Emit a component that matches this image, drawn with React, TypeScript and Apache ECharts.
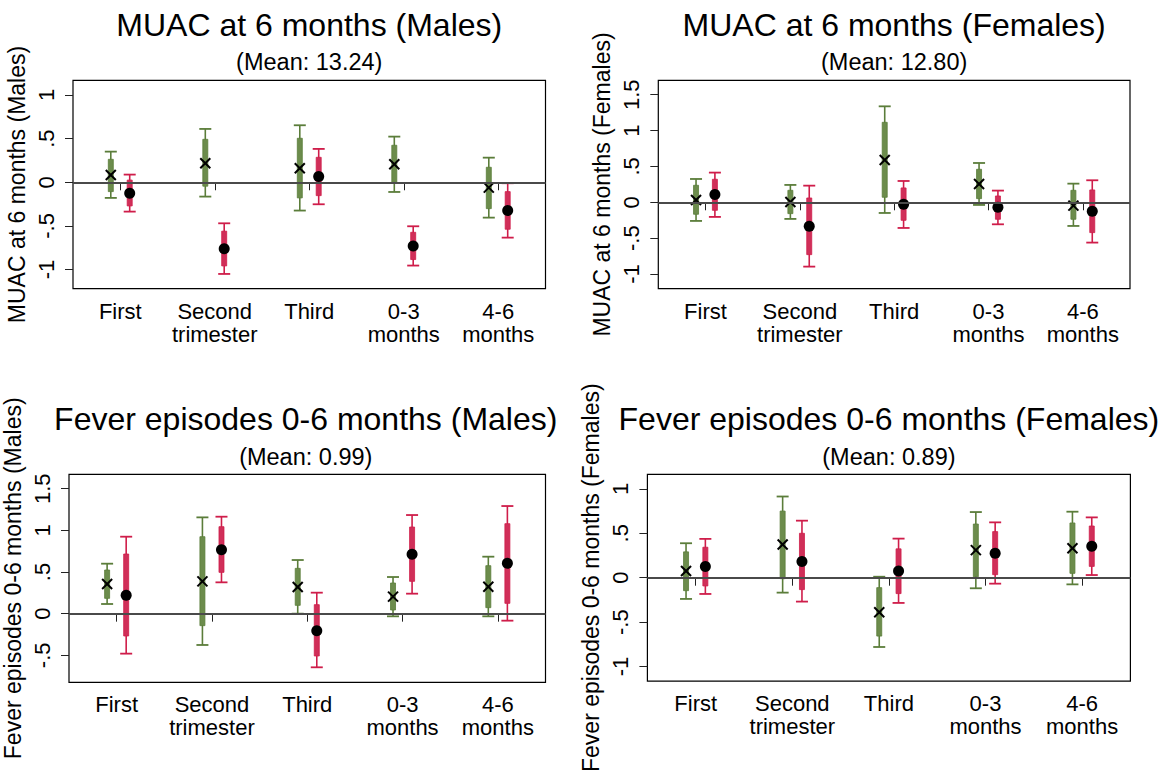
import React, { useEffect, useRef } from 'react';
import * as echarts from 'echarts';

const categories = ['First', 'Second\ntrimester', 'Third', '0-3\nmonths', '4-6\nmonths'];

// rows: [estimate, lo90, hi90, lo95, hi95]
const muacMalesGreen = [
  [0.084, -0.107, 0.263, -0.179, 0.351],
  [0.218, -0.045, 0.492, -0.164, 0.611],
  [0.160, -0.179, 0.504, -0.324, 0.653],
  [0.206, -0.008, 0.424, -0.111, 0.523],
  [-0.061, -0.302, 0.172, -0.405, 0.282],
];
const muacMalesRed = [
  [-0.126, -0.271, 0.025, -0.336, 0.088],
  [-0.762, -0.958, -0.560, -1.050, -0.470],
  [0.065, -0.153, 0.286, -0.252, 0.382],
  [-0.729, -0.885, -0.573, -0.954, -0.504],
  [-0.324, -0.538, -0.107, -0.634, -0.011],
];
const muacFemalesGreen = [
  [0.033, -0.167, 0.237, -0.260, 0.325],
  [0.005, -0.158, 0.167, -0.232, 0.242],
  [0.590, 0.070, 1.115, -0.149, 1.338],
  [0.256, 0.051, 0.460, -0.037, 0.548],
  [-0.046, -0.237, 0.167, -0.330, 0.260],
];
const muacFemalesRed = [
  [0.107, -0.112, 0.321, -0.204, 0.414],
  [-0.335, -0.730, 0.060, -0.897, 0.232],
  [-0.028, -0.251, 0.200, -0.358, 0.297],
  [-0.070, -0.237, 0.088, -0.307, 0.163],
  [-0.125, -0.423, 0.172, -0.562, 0.307],
];
const feverMalesGreen = [
  [0.356, 0.184, 0.524, 0.116, 0.600],
  [0.388, -0.144, 0.924, -0.376, 1.156],
  [0.320, 0.100, 0.544, 0.000, 0.644],
  [0.204, 0.044, 0.368, -0.032, 0.440],
  [0.324, 0.072, 0.576, -0.032, 0.684],
];
const feverMalesRed = [
  [0.220, -0.268, 0.716, -0.480, 0.924],
  [0.768, 0.496, 1.044, 0.376, 1.164],
  [-0.204, -0.508, 0.108, -0.644, 0.252],
  [0.712, 0.388, 1.040, 0.240, 1.184],
  [0.604, 0.124, 1.080, -0.084, 1.292],
];
const feverFemalesGreen = [
  [0.075, -0.146, 0.291, -0.239, 0.388],
  [0.373, -0.011, 0.750, -0.168, 0.914],
  [-0.388, -0.657, -0.112, -0.780, 0.011],
  [0.310, 0.011, 0.604, -0.119, 0.739],
  [0.332, 0.049, 0.616, -0.075, 0.743],
];
const feverFemalesRed = [
  [0.127, -0.093, 0.343, -0.183, 0.437],
  [0.183, -0.134, 0.500, -0.269, 0.642],
  [0.075, -0.179, 0.325, -0.284, 0.440],
  [0.276, 0.034, 0.519, -0.067, 0.623],
  [0.354, 0.127, 0.582, 0.030, 0.679],
];

const panelTitles = [
  'MUAC at 6 months (Males)',
  'MUAC at 6 months (Females)',
  'Fever episodes 0-6 months (Males)',
  'Fever episodes 0-6 months (Females)',
];
const panelMeans = ['(Mean: 13.24)', '(Mean: 12.80)', '(Mean: 0.99)', '(Mean: 0.89)'];
const yAxisNames = [
  'MUAC at 6 months (Males)',
  'MUAC at 6 months (Females)',
  'Fever episodes 0-6 months (Males)',
  'Fever episodes 0-6 months (Females)',
];
const yTickValues = [
  [-1, -0.5, 0, 0.5, 1],
  [-1, -0.5, 0, 0.5, 1, 1.5],
  [-0.5, 0, 0.5, 1, 1.5],
  [-1, -0.5, 0, 0.5, 1],
];
const yRanges = [
  [-1.219, 1.168],
  [-1.205, 1.701],
  [-0.824, 1.673],
  [-1.164, 1.164],
];

const greenSeries = [muacMalesGreen, muacFemalesGreen, feverMalesGreen, feverFemalesGreen];
const redSeries = [muacMalesRed, muacFemalesRed, feverMalesRed, feverFemalesRed];

// layout (pixels)
const gridBoxes = [
  { left: 73, top: 80.3, width: 472.5, height: 208.4 },
  { left: 658.3, top: 80.3, width: 471.7, height: 208.4 },
  { left: 66, top: 474.3, width: 479.5, height: 208 },
  { left: 647.4, top: 474.3, width: 483, height: 208 },
];
const titleY = [25, 25, 418.5, 419.3];
const subY = [62, 62, 457, 457];

const FONT = '"Liberation Sans", Arial, Helvetica, sans-serif';
const GREEN_LINE = '#5b7d3a';
const GREEN_FILL = '#6c8c4c';
const RED_LINE = '#cf1d4a';
const RED_FILL = '#d02f59';

const fmt = (v: number) => {
  if (v === 0) return '0';
  const s = String(v);
  return s.replace(/^(-?)0\./, '$1.');
};

const renderBar = (offset: number, lineColor: string, fillColor: string, marker: 'x' | 'dot') =>
  (params: any, api: any) => {
    const c = api.value(0);
    const band = api.size([1, 0])[0];
    const x = api.coord([c, 0])[0] + offset * band;
    const y = (v: number) => api.coord([c, v])[1];
    const est = y(api.value(1));
    const lo90 = y(api.value(2));
    const hi90 = y(api.value(3));
    const lo95 = y(api.value(4));
    const hi95 = y(api.value(5));
    const cap = 6;
    const bw = 5;
    const children: any[] = [
      { type: 'line', shape: { x1: x, y1: lo95, x2: x, y2: hi95 }, style: { stroke: lineColor, lineWidth: 1.6 } },
      { type: 'line', shape: { x1: x - cap, y1: hi95, x2: x + cap, y2: hi95 }, style: { stroke: lineColor, lineWidth: 1.8 } },
      { type: 'line', shape: { x1: x - cap, y1: lo95, x2: x + cap, y2: lo95 }, style: { stroke: lineColor, lineWidth: 1.8 } },
      { type: 'rect', shape: { x: x - bw / 2, y: hi90, width: bw, height: lo90 - hi90 }, style: { fill: fillColor, stroke: lineColor, lineWidth: 0.8 } },
    ];
    if (marker === 'x') {
      const h = 5;
      children.push(
        { type: 'line', shape: { x1: x - h, y1: est - h, x2: x + h, y2: est + h }, style: { stroke: '#000', lineWidth: 2 } },
        { type: 'line', shape: { x1: x - h, y1: est + h, x2: x + h, y2: est - h }, style: { stroke: '#000', lineWidth: 2 } },
      );
    } else {
      children.push({ type: 'circle', shape: { cx: x, cy: est, r: 5.5 }, style: { fill: '#000' } });
    }
    return { type: 'group', children };
  };

const toData = (rows: number[][]) => rows.map((r, i) => [i, r[0], r[1], r[2], r[3], r[4]]);

export default function App() {
  const ref = useRef<HTMLDivElement>(null);
  useEffect(() => {
    if (!ref.current) return;
    const chart = echarts.init(ref.current, undefined, { renderer: 'svg' });
    const grid: any[] = [];
    const xAxis: any[] = [];
    const yAxis: any[] = [];
    const series: any[] = [];
    const graphic: any[] = [];
    for (let p = 0; p < 4; p++) {
      const g = gridBoxes[p];
      grid.push({ ...g, show: true, borderColor: '#000', borderWidth: 1.2, backgroundColor: '#fff' });
      xAxis.push({
        type: 'category', gridIndex: p, data: categories, boundaryGap: true, position: 'bottom',
        axisLine: { show: false },
        axisTick: { show: true, inside: false, alignWithLabel: true, length: 8, lineStyle: { color: '#222', width: 1 } },
        axisLabel: { color: '#000', fontSize: 22, fontFamily: FONT, lineHeight: 23, margin: 11, interval: 0 },
        splitLine: { show: false },
      });
      yAxis.push({
        type: 'value', gridIndex: p, min: yRanges[p][0], max: yRanges[p][1], position: 'left',
        name: yAxisNames[p], nameLocation: 'middle', nameGap: 45, nameRotate: 90,
        nameTextStyle: { color: '#000', fontSize: 23, fontFamily: FONT },
        axisLine: { show: false },
        axisTick: { show: true, inside: false, length: 8, customValues: yTickValues[p], lineStyle: { color: '#222', width: 1 } },
        axisLabel: { color: '#000', fontSize: 22, fontFamily: FONT, rotate: 90, margin: 16, customValues: yTickValues[p], formatter: (v: number) => fmt(v) },
        splitLine: { show: false },
      });
      series.push({
        type: 'line', xAxisIndex: p, yAxisIndex: p, data: [], z: 1, silent: true,
        markLine: { silent: true, symbol: 'none', label: { show: false }, animation: false,
          lineStyle: { color: '#4a4a4a', width: 1.8, type: 'solid' }, data: [{ yAxis: 0 }] },
      });
      series.push({
        type: 'custom', xAxisIndex: p, yAxisIndex: p, z: 3,
        renderItem: renderBar(-0.1, GREEN_LINE, GREEN_FILL, 'x'),
        encode: { x: 0, y: [1, 2, 3, 4, 5] },
        data: toData(greenSeries[p]),
      });
      series.push({
        type: 'custom', xAxisIndex: p, yAxisIndex: p, z: 3,
        renderItem: renderBar(0.1, RED_LINE, RED_FILL, 'dot'),
        encode: { x: 0, y: [1, 2, 3, 4, 5] },
        data: toData(redSeries[p]),
      });
      const cx = g.left + g.width / 2;
      graphic.push({ type: 'text', x: cx, y: titleY[p], z: 10,
        style: { text: panelTitles[p], fill: '#000', font: `32px ${FONT}`, textAlign: 'center', textVerticalAlign: 'middle' } });
      graphic.push({ type: 'text', x: cx, y: subY[p], z: 10,
        style: { text: panelMeans[p], fill: '#000', font: `23.5px ${FONT}`, textAlign: 'center', textVerticalAlign: 'middle' } });
    }
    chart.setOption({
      animation: false,
      backgroundColor: '#fff',
      grid, xAxis, yAxis, series, graphic,
    });
    return () => chart.dispose();
  }, []);
  return <div ref={ref} style={{ position: 'fixed', left: 0, top: 0, width: 1168, height: 774, background: '#fff' }} />;
}
